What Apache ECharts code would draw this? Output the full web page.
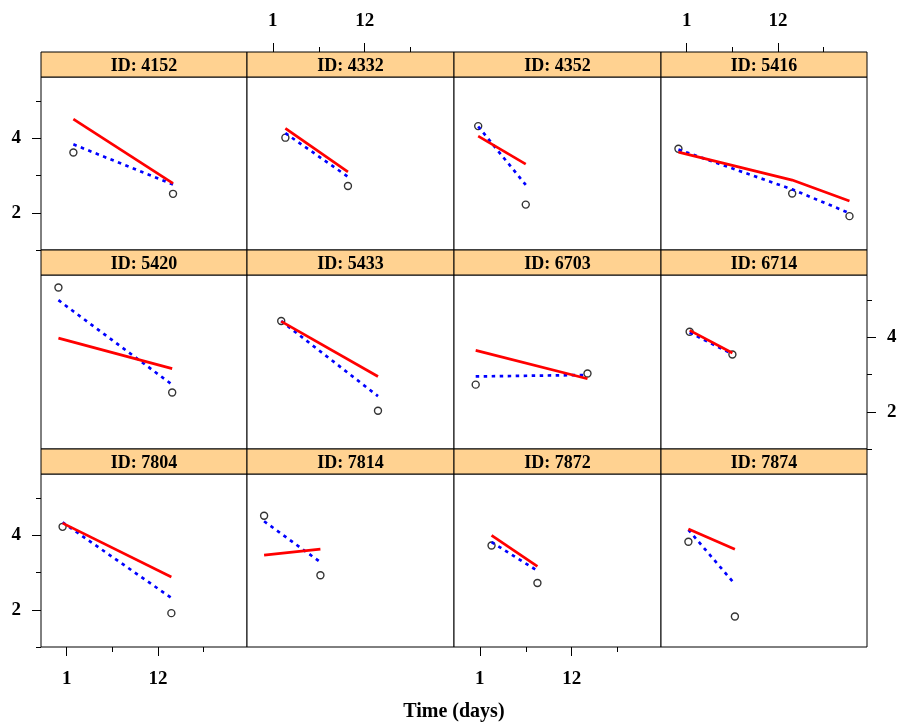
<!DOCTYPE html>
<html>
<head>
<meta charset="utf-8">
<script src="https://cdn.jsdelivr.net/npm/echarts@6.0.0/dist/echarts.min.js"></script>
<style>
html,body{margin:0;padding:0;background:#fff;}
#chart{width:902px;height:725px;}
</style>
</head>
<body>
<div id="chart"></div>
<script>
// ---- data ----
const ids = ["4152","4332","4352","5416","5420","5433","6703","6714","7804","7814","7872","7874"];
const times = [
  [1.8, 13.8], [2.5, 10.0], [0.8, 6.5], [0.0, 13.7, 20.6],
  [0.0, 13.7], [2.0, 13.6], [0.5, 13.9], [1.35, 6.5],
  [0.5, 13.6], [-0.05, 6.7], [2.4, 7.9], [1.2, 6.8]
];
const observed = [
  [3.62, 2.51], [4.02, 2.72], [4.33, 2.22], [3.72, 2.52, 1.91],
  [5.34, 2.52], [4.44, 2.03], [2.73, 3.03], [4.15, 3.54],
  [4.23, 1.91], [4.53, 2.93], [3.73, 2.72], [3.83, 1.82]
];
const popPred = [
  [4.52, 2.79], [4.27, 3.10], [4.06, 3.31], [3.63, 2.88, 2.32],
  [3.98, 3.16], [4.43, 2.95], [3.65, 2.89], [4.19, 3.58],
  [4.33, 2.88], [3.47, 3.63], [4.00, 3.17], [4.17, 3.63]
];
const indPred = [
  [3.84, 2.76], [4.14, 2.97], [4.32, 2.75], [3.70, 2.63, 1.99],
  [5.00, 2.73], [4.44, 2.42], [2.95, 2.99], [4.13, 3.55],
  [4.35, 2.32], [4.38, 3.28], [3.82, 3.05], [4.15, 2.69]
];
const xTickLabels = [1, 12];
const xMinorTicks = [6.5, 17.5];
const yTickLabels = [2, 4];
const yMinorTicks = [1, 3, 5];
const xAxisTitle = "Time (days)";
const stripPrefix = "ID: ";

// ---- layout ----
const FONT = '"Liberation Serif", "Times New Roman", serif';
const nCol = 4, nRow = 3;
const colLeft0 = 40.5, colW = 206.7;
const rowTop0 = 51.7, rowH = 198.5, stripH = 25;
const xMin = -2.10, xMax = 22.71;
const yMin = 1, pxPerY = 37.2;

const grids = [], xAxes = [], yAxes = [], series = [], graphics = [];

for (let i = 0; i < ids.length; i++) {
  const r = Math.floor(i / nCol), c = i % nCol;
  const left = Math.round(colLeft0 + c * colW);
  const right = Math.round(colLeft0 + (c + 1) * colW);
  const rowTop = Math.round(rowTop0 + r * rowH);
  const rowBottom = Math.round(rowTop0 + (r + 1) * rowH);
  const top = rowTop + stripH;
  const w = right - left, h = rowBottom - top;
  grids.push({left: left, top: top, width: w, height: h, show: true,
    backgroundColor: '#fff', borderColor: '#000', borderWidth: 1});

  const showTopX = (r === 0 && c % 2 === 1);
  const showBottomX = (r === nRow - 1 && c % 2 === 0);
  const showX = showTopX || showBottomX;
  const showLeftY = (c === 0 && r % 2 === 0);
  const showRightY = (c === nCol - 1 && r % 2 === 1);
  const showY = showLeftY || showRightY;

  const xCommon = {
    type: 'value', gridIndex: i, min: xMin, max: xMax,
    position: showTopX ? 'top' : 'bottom', offset: showTopX ? stripH : 0,
    axisLine: {show: false, onZero: false}, splitLine: {show: false}
  };
  xAxes.push(Object.assign({}, xCommon, {
    axisTick: {show: showX, customValues: xTickLabels, length: 9, lineStyle: {color: '#000', width: 1}},
    axisLabel: {show: showX, customValues: xTickLabels, margin: showTopX ? 21 : 23,
      fontFamily: FONT, fontWeight: 'bold', fontSize: 19, color: '#000'}
  }));
  xAxes.push(Object.assign({}, xCommon, {
    axisTick: {show: showX, customValues: xMinorTicks, length: 5, lineStyle: {color: '#000', width: 1}},
    axisLabel: {show: false}
  }));

  const yMax = yMin + h / pxPerY;
  const yCommon = {
    type: 'value', gridIndex: i, min: yMin, max: yMax,
    position: showRightY ? 'right' : 'left',
    axisLine: {show: false, onZero: false}, splitLine: {show: false}
  };
  yAxes.push(Object.assign({}, yCommon, {
    axisTick: {show: showY, customValues: yTickLabels, length: 9, lineStyle: {color: '#000', width: 1}},
    axisLabel: {show: showY, customValues: yTickLabels, margin: 20, padding: [15, 0, 0, 0],
      fontFamily: FONT, fontWeight: 'bold', fontSize: 19, color: '#000'}
  }));
  yAxes.push(Object.assign({}, yCommon, {
    axisTick: {show: showY, customValues: yMinorTicks, length: 5, lineStyle: {color: '#000', width: 1}},
    axisLabel: {show: false}
  }));

  const xi = 2 * i, yi = 2 * i;
  series.push({
    type: 'scatter', xAxisIndex: xi, yAxisIndex: yi, silent: true,
    data: times[i].map((t, k) => [t, observed[i][k]]),
    symbol: 'circle', symbolSize: 7,
    itemStyle: {color: 'rgba(0,0,0,0)', borderColor: '#000', borderWidth: 1.4},
    z: 2
  });
  series.push({
    type: 'line', xAxisIndex: xi, yAxisIndex: yi, silent: true,
    data: times[i].map((t, k) => [t, indPred[i][k]]),
    symbol: 'none', lineStyle: {color: '#0000FF', width: 2.7, type: [3.5, 4.5]},
    z: 3
  });
  series.push({
    type: 'line', xAxisIndex: xi, yAxisIndex: yi, silent: true,
    data: times[i].map((t, k) => [t, popPred[i][k]]),
    symbol: 'none', lineStyle: {color: '#FF0000', width: 2.7},
    z: 4
  });

  // strip
  graphics.push({type: 'rect', shape: {x: left, y: rowTop, width: w, height: stripH},
    style: {fill: '#FFD291', stroke: '#000', lineWidth: 1}, z: 10});
  graphics.push({type: 'text', x: left + w / 2, y: rowTop + stripH / 2 + 2,
    style: {text: stripPrefix + ids[i], textAlign: 'center', textVerticalAlign: 'middle',
      font: 'bold 18px ' + FONT, fill: '#000'}, z: 11});
}

graphics.push({type: 'text', x: (colLeft0 + colLeft0 + nCol * colW) / 2, y: 712,
  style: {text: xAxisTitle, textAlign: 'center', textVerticalAlign: 'middle',
    font: 'bold 20px ' + FONT, fill: '#000'}, z: 11});

const chart = echarts.init(document.getElementById('chart'));
chart.setOption({
  animation: false,
  backgroundColor: '#fff',
  grid: grids,
  xAxis: xAxes,
  yAxis: yAxes,
  series: series,
  graphic: graphics
});
</script>
</body>
</html>
